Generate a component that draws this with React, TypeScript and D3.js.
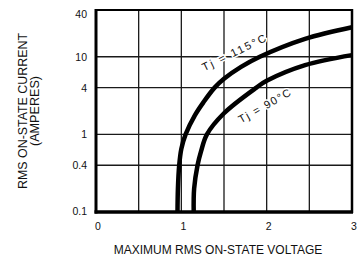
import React, { useEffect, useRef } from 'react';
import * as d3 from 'd3';

// Tj = 115°C curve (volts, amperes)
const volts115 = [0.955, 0.96, 0.975, 1.0, 1.05, 1.16, 1.26, 1.39, 1.5, 1.7, 1.92, 2.45, 3.0];
const amps115 = [0.1, 0.2, 0.4, 0.65, 1.0, 1.77, 2.6, 4, 5.2, 7.4, 10, 17, 24];

// Tj = 90°C curve
const volts90 = [1.145, 1.15, 1.19, 1.23, 1.3, 1.5, 1.88, 2.0, 2.45, 3.0];
const amps90 = [0.1, 0.2, 0.4, 0.6, 1.0, 1.87, 4, 4.9, 7.8, 10.5];

const yTicks = [0.1, 0.4, 1, 4, 10, 40];
const yTickLabels = ['0.1', '0.4', '1', '4', '10', '40'];
const xTicks = [0, 1, 2, 3];
const xTickLabels = ['0', '1', '2', '3'];
const yGrid = [0.4, 1, 4, 10];
const xGrid = [0.5, 1, 1.5, 2, 2.5];

const curveLabels = [
  { text: 'Tj = 115°C', v: 1.27, a: 6.5, angle: -26, spacing: 2 },
  { text: 'Tj = 90°C', v: 1.7, a: 1.38, angle: -29.5, spacing: 1.5 },
];

export default function App() {
  const ref = useRef<SVGSVGElement | null>(null);

  useEffect(() => {
    const svg = d3.select(ref.current);
    svg.selectAll('*').remove();

    const left = 96, right = 352, top = 10, bottom = 212;
    const x = d3.scaleLinear().domain([0, 3]).range([left, right]);
    const y = d3.scaleLog().domain([0.1, 40]).range([bottom, top]);
    const font = 'Liberation Sans, Arial, Helvetica, sans-serif';

    svg.append('rect').attr('width', 358).attr('height', 258).attr('fill', '#fff');

    // grid
    const g = svg.append('g').attr('stroke', '#1a1a1a').attr('stroke-width', 1.3);
    yGrid.forEach(v => {
      g.append('line').attr('x1', left).attr('x2', right).attr('y1', y(v)).attr('y2', y(v));
    });
    xGrid.forEach(v => {
      g.append('line').attr('x1', x(v)).attr('x2', x(v)).attr('y1', top).attr('y2', bottom);
    });

    // frame
    const frame = svg.append('g').attr('stroke', '#000');
    frame.append('line').attr('x1', left).attr('x2', right).attr('y1', top).attr('y2', top).attr('stroke-width', 2);
    frame.append('line').attr('x1', right).attr('x2', right).attr('y1', top - 1).attr('y2', bottom + 1).attr('stroke-width', 2.5);
    frame.append('line').attr('x1', left).attr('x2', left).attr('y1', top - 1).attr('y2', bottom + 1.5).attr('stroke-width', 3);
    frame.append('line').attr('x1', left - 1.5).attr('x2', right + 1).attr('y1', bottom).attr('y2', bottom).attr('stroke-width', 3.5);

    // curve labels (white halo breaks the grid behind them)
    curveLabels.forEach(c => {
      svg.append('text')
        .attr('transform', `translate(${x(c.v)},${y(c.a)}) rotate(${c.angle})`)
        .attr('font-family', font)
        .attr('font-size', 11)
        .attr('letter-spacing', c.spacing)
        .attr('fill', '#111')
        .attr('stroke', '#fff')
        .attr('stroke-width', 3)
        .attr('paint-order', 'stroke')
        .text(c.text);
    });

    // curves
    const line = d3.line<[number, number]>()
      .x(d => x(d[0]))
      .y(d => y(d[1]))
      .curve(d3.curveCatmullRom.alpha(0.5));

    [[volts115, amps115], [volts90, amps90]].forEach(([vs, as]) => {
      const pts = vs.map((v, i) => [v, as[i]] as [number, number]);
      svg.append('path')
        .attr('d', line(pts))
        .attr('fill', 'none')
        .attr('stroke', '#000')
        .attr('stroke-width', 4.5)
        .attr('stroke-linecap', 'butt');
    });

    // y tick labels
    yTicks.forEach((v, i) => {
      svg.append('text')
        .attr('x', 87)
        .attr('y', y(v) + (v === 40 ? 8 : 4) - (v === 0.1 ? 1.5 : 0))
        .attr('text-anchor', 'end')
        .attr('font-family', font)
        .attr('font-size', 10.5)
        .attr('fill', '#111')
        .text(yTickLabels[i]);
    });

    // x tick labels
    xTicks.forEach((v, i) => {
      svg.append('text')
        .attr('x', x(v) + 2)
        .attr('y', 230)
        .attr('text-anchor', 'middle')
        .attr('font-family', font)
        .attr('font-size', 10.5)
        .attr('fill', '#111')
        .text(xTickLabels[i]);
    });

    // axis titles
    svg.append('text')
      .attr('x', 218)
      .attr('y', 254)
      .attr('text-anchor', 'middle')
      .attr('font-family', font)
      .attr('font-size', 12)
      .attr('fill', '#111')
      .text('MAXIMUM RMS ON-STATE VOLTAGE');

    const midY = (top + bottom) / 2;
    svg.append('text')
      .attr('transform', `translate(27,${midY + 78}) rotate(-90)`)
      .attr('font-family', font)
      .attr('font-size', 12)
      .attr('textLength', 156)
      .attr('lengthAdjust', 'spacingAndGlyphs')
      .attr('fill', '#111')
      .text('RMS ON-STATE CURRENT');
    svg.append('text')
      .attr('transform', `translate(39,${midY + 35}) rotate(-90)`)
      .attr('font-family', font)
      .attr('font-size', 12)
      .attr('textLength', 70)
      .attr('lengthAdjust', 'spacingAndGlyphs')
      .attr('fill', '#111')
      .text('(AMPERES)');

    return () => {
      svg.selectAll('*').remove();
    };
  }, []);

  return (
    <svg
      ref={ref}
      width={358}
      height={258}
      style={{ position: 'absolute', left: 0, top: 0 }}
    />
  );
}
